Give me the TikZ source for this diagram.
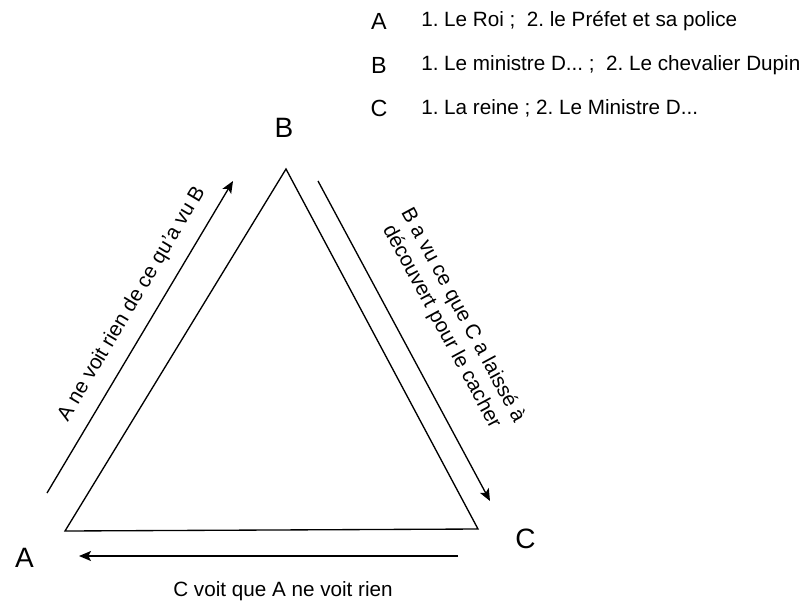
\documentclass[tikz,border=0pt]{standalone}
\usepackage{fontspec}
\setmainfont{Liberation Sans}
\usetikzlibrary{arrows.meta}
\frenchspacing
\begin{document}
\begin{tikzpicture}[x=0.75pt,y=-0.75pt,
  edge/.style={line width=1pt, black},
  arr/.style={edge, -{Stealth[length=9pt,width=7.5pt,inset=2pt]}},
  big/.style={font=\fontsize{21}{25}\selectfont, inner sep=0pt},
  leg/.style={font=\fontsize{17.5}{21}\selectfont, inner sep=0pt},
  txt/.style={font=\fontsize{15.5}{18}\selectfont, inner sep=0pt}]
\useasboundingbox (0,0) rectangle (803,604);
% triangle
\coordinate (TA) at (65,531);
\coordinate (TB) at (286,169);
\coordinate (TC) at (478,529);
\draw[edge, line join=miter] (TA) -- (TB) -- (TC) -- cycle;
% vertex labels
\node[big] (lB) at (284,127.5) {B};
\node[big] (lA) at (24.5,557.5) {A};
\node[big] (lC) at (525.5,538.5) {C};
% arrows
\coordinate (a1s) at (47,493); \coordinate (a1e) at (233,181);
\coordinate (a2s) at (318,181); \coordinate (a2e) at (490,501);
\coordinate (a3s) at (458,556); \coordinate (a3e) at (79,556);
\draw[arr] (a1s) -- (a1e);
\draw[arr] (a2s) -- (a2e);
\draw[arr] (a3s) -- (a3e);
% arrow texts
\node[txt, rotate=59.2] (t1) at (132,304) {A ne voit rien de ce qu'a vu B};
\node[txt, rotate=-61.7, align=center] (t2) at (452,321) {B a vu ce que C a laissé à\\découvert pour le cacher};
\node[txt] (t3) at (283,591) {C voit que A ne voit rien};
% legend
\node[leg] (kA) at (379,21) {A};
\node[leg] (kB) at (379,65) {B};
\node[leg] (kC) at (379,108) {C};
\node[txt, anchor=west] (dA) at (421,21) {1. Le Roi ;\ \ 2. le Préfet et sa police};
\node[txt, anchor=west] (dB) at (421,65) {1. Le ministre D... ;\ \ 2. Le chevalier Dupin};
\node[txt, anchor=west] (dC) at (421,108) {1. La reine ; 2. Le Ministre D...};
\end{tikzpicture}
\end{document}
